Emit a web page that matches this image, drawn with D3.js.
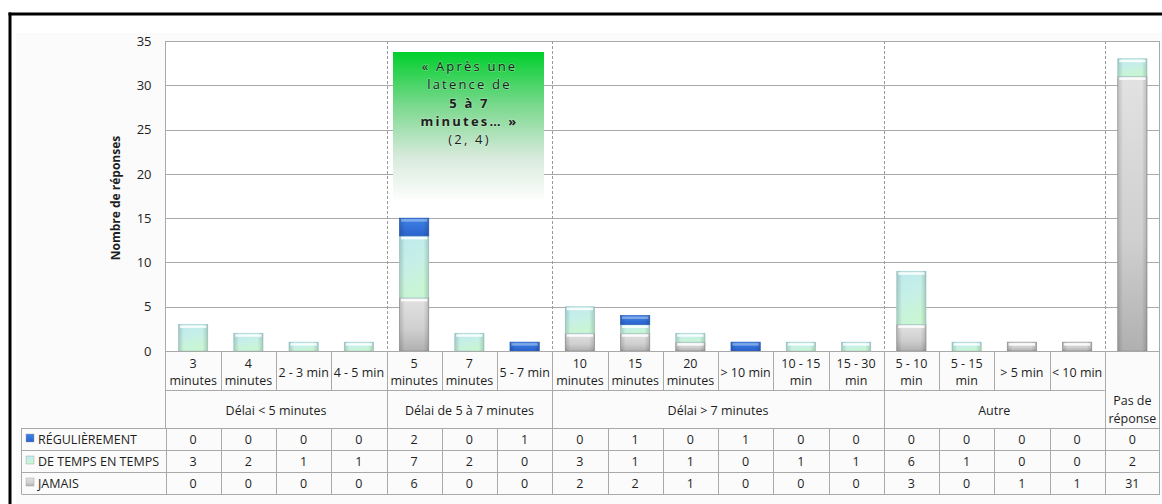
<!DOCTYPE html>
<html>
<head>
<meta charset="utf-8">
<script src="https://d3js.org/d3.v7.min.js"></script>
<style>
  body { margin: 0; padding: 0; background: #fff; overflow: hidden; }
  text { font-family: "Open Sans", "Noto Sans", sans-serif; fill: #1e1e1e; }
</style>
</head>
<body>
<svg id="chart" width="1162" height="504"></svg>
<script>
// categories (a "\n" splits a label over two lines)
var categories = ["3\nminutes", "4\nminutes", "2 - 3 min", "4 - 5 min",
  "5\nminutes", "7\nminutes", "5 - 7 min",
  "10\nminutes", "15\nminutes", "20\nminutes", "> 10 min", "10 - 15\nmin", "15 - 30\nmin",
  "5 - 10\nmin", "5 - 15\nmin", "> 5 min", "< 10 min",
  ""];
var groups = ["Délai < 5 minutes", "Délai de 5 à 7 minutes", "Délai > 7 minutes", "Autre", "Pas de\nréponse"];
var groupSizes = [4, 3, 6, 4, 1];

var seriesNames = ["RÉGULIÈREMENT", "DE TEMPS EN TEMPS", "JAMAIS"];
var regulierement = [0, 0, 0, 0, 2, 0, 1, 0, 1, 0, 1, 0, 0, 0, 0, 0, 0, 0];
var deTempsEnTemps = [3, 2, 1, 1, 7, 2, 0, 3, 1, 1, 0, 1, 1, 6, 1, 0, 0, 2];
var jamais = [0, 0, 0, 0, 6, 0, 0, 2, 2, 1, 0, 0, 0, 3, 0, 1, 1, 31];

var yTicks = [0, 5, 10, 15, 20, 25, 30, 35];
var noteLines = ["« Après une", "latence de", "5 à 7", "minutes… »", "(2, 4)"];

var svg = d3.select("#chart");
var plotL = 165.5, plotR = 1160, plotT = 41, plotB = 351;
var fs = "12.5px";

var x = d3.scaleBand().domain(d3.range(categories.length)).range([plotL, plotR]).padding(0);
var y = d3.scaleLinear().domain([0, 35]).range([plotB, plotT]);
var bw = x.bandwidth();

// gradients
var defs = svg.append("defs");
function grad(id, stops, x2, y2) {
  var g = defs.append("linearGradient").attr("id", id)
    .attr("x1", 0).attr("y1", 0).attr("x2", x2).attr("y2", y2);
  stops.forEach(function(s) {
    g.append("stop").attr("offset", s[0]).attr("stop-color", s[1]).attr("stop-opacity", s[2] == null ? 1 : s[2]);
  });
}
grad("gReg", [[0, "#3f82e6"], [1, "#2a62cc"]], 0, 1);
grad("gDtt", [[0, "#bde9ee"], [0.55, "#c6f0e6"], [1, "#c8f5d3"]], 0.3, 1);
grad("gJam", [[0, "#e2e2e2"], [0.6, "#cfcfcf"], [1, "#b0b0b0"]], 0, 1);
grad("gEdge", [[0, "#000", 0.16], [0.18, "#000", 0], [0.82, "#000", 0], [1, "#000", 0.16]], 1, 0);
grad("gNote", [[0, "#00cf2c"], [0.35, "#78d88c"], [0.7, "#d7eadb"], [1, "#ffffff"]], 0, 1);

// background + black frame
svg.append("rect").attr("x", 16).attr("y", 33).attr("width", 1146).attr("height", 471).attr("fill", "#fbfbfb");
svg.append("rect").attr("x", plotL).attr("y", plotT).attr("width", plotR - plotL).attr("height", plotB - plotT).attr("fill", "#fff");
svg.append("line").attr("x1", 8.5).attr("x2", 1162).attr("y1", 14).attr("y2", 14).attr("stroke", "#000").attr("stroke-width", 3);
svg.append("line").attr("x1", 10).attr("x2", 10).attr("y1", 12.5).attr("y2", 504).attr("stroke", "#000").attr("stroke-width", 3);

// horizontal gridlines
svg.append("g").selectAll("line").data(yTicks).join("line")
  .attr("x1", plotL).attr("x2", plotR)
  .attr("y1", function(d) { return Math.round(y(d)) + 0.5; })
  .attr("y2", function(d) { return Math.round(y(d)) + 0.5; })
  .attr("stroke", "#a9a9a9").attr("stroke-width", 1);

// y axis labels
var yAxis = d3.axisLeft(y).tickValues(yTicks).tickSize(0).tickPadding(14);
var ya = svg.append("g").attr("transform", "translate(" + plotL + ",0)").call(yAxis);
ya.select(".domain").remove();
ya.selectAll("text").style("font-family", "'Open Sans', sans-serif").style("font-size", "13px").attr("fill", "#1e1e1e");

svg.append("text").attr("transform", "translate(117,198) rotate(-90)")
  .attr("text-anchor", "middle").attr("dominant-baseline", "middle")
  .style("font-size", "12px").style("font-weight", "bold").text("Nombre de réponses");

// group boundaries (dashed in the plot)
var groupStarts = [];
var acc = 0;
groupSizes.forEach(function(n) { groupStarts.push(acc); acc += n; });
svg.append("g").selectAll("line").data(groupStarts.slice(1)).join("line")
  .attr("x1", function(i) { return Math.round(x(i)) + 0.5; })
  .attr("x2", function(i) { return Math.round(x(i)) + 0.5; })
  .attr("y1", plotT).attr("y2", plotB)
  .attr("stroke", "#9a9a9a").attr("stroke-dasharray", "3,2");

// plot frame lines
svg.append("line").attr("x1", plotL).attr("x2", plotL).attr("y1", plotT).attr("y2", 428).attr("stroke", "#a9a9a9");
svg.append("line").attr("x1", plotR - 0.5).attr("x2", plotR - 0.5).attr("y1", plotT).attr("y2", 494).attr("stroke", "#a9a9a9");

// stacked bars
var stackData = categories.map(function(c, i) {
  return { i: i, jamais: jamais[i], dtt: deTempsEnTemps[i], reg: regulierement[i] };
});
var stack = d3.stack().keys(["jamais", "dtt", "reg"]);
var layers = stack(stackData);
var fills = { jamais: "url(#gJam)", dtt: "url(#gDtt)", reg: "url(#gReg)" };
var edges = { jamais: "#959595", dtt: "#a6d2d2", reg: "#2a5cbc" };
var barW = bw * 0.53;
function bx(d) { return x(d.data.i) + (bw - barW) / 2; }

layers.forEach(function(layer) {
  var key = layer.key;
  var g = svg.append("g");
  var segs = layer.filter(function(d) { return d[1] - d[0] > 0; });
  g.selectAll("rect.seg").data(segs).join("rect").attr("class", "seg")
    .attr("x", bx).attr("y", function(d) { return y(d[1]); })
    .attr("width", barW)
    .attr("height", function(d) { return y(d[0]) - y(d[1]); })
    .attr("fill", fills[key]).attr("stroke", edges[key]).attr("stroke-width", 0.7);
  // darker side edges
  g.selectAll("rect.edge").data(segs).join("rect").attr("class", "edge")
    .attr("x", bx).attr("y", function(d) { return y(d[1]); })
    .attr("width", barW)
    .attr("height", function(d) { return y(d[0]) - y(d[1]); })
    .attr("fill", "url(#gEdge)");
  // bevel highlight on top of each segment
  g.selectAll("rect.cap").data(segs).join("rect").attr("class", "cap")
    .attr("x", function(d) { return bx(d) + 1.5; })
    .attr("y", function(d) { return y(d[1]) + 1; })
    .attr("width", barW - 3).attr("height", 2.5)
    .attr("fill", "#fff").attr("opacity", key === "reg" ? 0.35 : 0.85);
});

// category label row
svg.append("line").attr("x1", plotL).attr("x2", plotR).attr("y1", plotB + 0.5).attr("y2", plotB + 0.5).attr("stroke", "#a9a9a9");
var lastStart = x(categories.length - 1);
svg.append("line").attr("x1", plotL).attr("x2", lastStart).attr("y1", 390.5).attr("y2", 390.5).attr("stroke", "#a9a9a9");
svg.append("g").selectAll("line").data(d3.range(1, categories.length)).join("line")
  .attr("x1", function(i) { return Math.round(x(i)) + 0.5; })
  .attr("x2", function(i) { return Math.round(x(i)) + 0.5; })
  .attr("y1", plotB).attr("y2", function(i) { return i === categories.length - 1 ? 494 : (groupStarts.indexOf(i) >= 0 ? 428 : 390); })
  .attr("stroke", "#a9a9a9");

var catLabels = svg.append("g").selectAll("text").data(categories).join("text")
  .attr("text-anchor", "middle").style("font-size", fs);
catLabels.each(function(c, i) {
  var parts = c.split("\n");
  var t = d3.select(this);
  var cx = x(i) + bw / 2;
  if (parts.length === 1) {
    t.attr("x", cx).attr("y", 377).text(parts[0]);
  } else {
    t.append("tspan").attr("x", cx).attr("y", 368).text(parts[0]);
    t.append("tspan").attr("x", cx).attr("y", 385).text(parts[1]);
  }
});

// group label row
groups.forEach(function(gname, k) {
  var s = groupStarts[k], n = groupSizes[k];
  var cx = x(s) + n * bw / 2;
  var parts = gname.split("\n");
  if (parts.length === 1) {
    svg.append("text").attr("x", cx).attr("y", 415).attr("text-anchor", "middle").style("font-size", fs).text(gname);
  } else {
    svg.append("text").attr("x", cx).attr("y", 405).attr("text-anchor", "middle").style("font-size", fs).text(parts[0]);
    svg.append("text").attr("x", cx).attr("y", 423).attr("text-anchor", "middle").style("font-size", fs).text(parts[1]);
  }
});

// data table
var tableLeft = 21.5, rowTop = 428, rowH = 22;
var rows = [regulierement, deTempsEnTemps, jamais];
var iconFill = ["url(#gReg)", "url(#gDtt)", "url(#gJam)"];
d3.range(4).forEach(function(r) {
  svg.append("line").attr("x1", tableLeft).attr("x2", plotR)
    .attr("y1", rowTop + r * rowH + 0.5).attr("y2", rowTop + r * rowH + 0.5).attr("stroke", "#a9a9a9");
});
svg.append("line").attr("x1", tableLeft).attr("x2", tableLeft).attr("y1", rowTop).attr("y2", rowTop + 3 * rowH).attr("stroke", "#a9a9a9");
svg.append("g").selectAll("line").data(d3.range(0, categories.length - 1)).join("line")
  .attr("x1", function(i) { return Math.round(x(i)) + 0.5; })
  .attr("x2", function(i) { return Math.round(x(i)) + 0.5; })
  .attr("y1", rowTop).attr("y2", rowTop + 3 * rowH).attr("stroke", "#a9a9a9");

rows.forEach(function(vals, r) {
  var cy = rowTop + r * rowH + rowH / 2;
  svg.append("rect").attr("x", 26).attr("y", cy - 5).attr("width", 8).attr("height", 8)
    .attr("fill", iconFill[r]).attr("stroke", "#999").attr("stroke-width", 0.4);
  svg.append("text").attr("x", 38).attr("y", cy + 4.5).style("font-size", fs).text(seriesNames[r]);
  svg.append("g").selectAll("text").data(vals).join("text")
    .attr("x", function(v, i) { return x(i) + bw / 2; })
    .attr("y", cy + 4.5).attr("text-anchor", "middle").style("font-size", fs)
    .text(function(v) { return v; });
});

// annotation box
var nx = 393, ny = 52, nw = 151, nh = 150;
svg.append("rect").attr("x", nx).attr("y", ny).attr("width", nw).attr("height", nh).attr("fill", "url(#gNote)");
var note = svg.append("text").attr("text-anchor", "middle").style("font-size", "13px").style("letter-spacing", "2.2px")
  .style("paint-order", "stroke").attr("stroke", "rgba(255,255,255,0.25)").attr("stroke-width", 1.5);
noteLines.forEach(function(l, k) {
  note.append("tspan").attr("x", nx + nw / 2 + 1).attr("y", 71 + k * 18.3)
    .style("font-weight", (k === 2 || k === 3) ? "bold" : "normal").text(l);
});
</script>
</body>
</html>
